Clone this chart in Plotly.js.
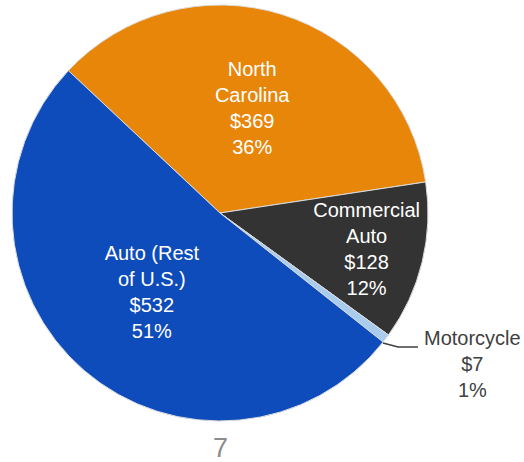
<!DOCTYPE html>
<html>
<head>
<meta charset="utf-8">
<script src="https://cdn.plot.ly/plotly-3.0.1.min.js"></script>
<style>html,body{margin:0;padding:0;background:#fff;}#chart{width:524px;height:462px;}</style>
</head>
<body>
<div id="chart"></div>
<script>
const categories = ["North<br>Carolina", "Commercial<br>Auto", "Motorcycle", "Auto (Rest<br>of U.S.)"];
const values = [369, 128, 7, 532];
const percents = ["36%", "12%", "1%", "51%"];
const colors = ["#E8860A", "#333333", "#A8CBEE", "#0F4CBB"];
const pageNumber = "7";

const texts = categories.map((c, i) => i === 2 ? "" : c + "<br>$" + values[i] + "<br>" + percents[i]);
const FONT = "Liberation Sans, Arial, sans-serif";

const trace = {
  type: "pie",
  labels: categories,
  values: values,
  text: texts,
  textinfo: "text",
  hoverinfo: "none",
  sort: false,
  direction: "clockwise",
  rotation: -46.8,
  textposition: "inside",
  insidetextorientation: "horizontal",
  insidetextfont: {family: FONT, size: 20, color: "#ffffff"},
  marker: {colors: colors, line: {color: "#dddddd", width: 1}},
  domain: {x: [12/524, 428/524], y: [1 - 421/462, 1 - 5/462]},
  showlegend: false
};

const layout = {
  width: 524, height: 462,
  margin: {l: 0, r: 0, t: 0, b: 0},
  paper_bgcolor: "#ffffff",
  showlegend: false,
  uniformtext: {mode: "show", minsize: 20},
  annotations: [
    {text: categories[2] + "<br>$" + values[2] + "<br>" + percents[2], xref: "paper", yref: "paper",
     x: 472/524, y: 1 - 364/462, xanchor: "center", yanchor: "middle", showarrow: false,
     font: {family: FONT, size: 20, color: "#404040"}},
    {text: pageNumber, xref: "paper", yref: "paper", x: 220/524, y: 1 - 448/462,
     xanchor: "center", yanchor: "middle", showarrow: false,
     font: {family: FONT, size: 27, color: "#8c8c8c"}}
  ],
  shapes: [
    {type: "path", xref: "paper", yref: "paper",
     path: "M " + (383/524) + " " + (1 - 343/462) + " L " + (398/524) + " " + (1 - 347/462) + " L " + (418/524) + " " + (1 - 347/462),
     line: {color: "#404040", width: 1.5}}
  ]
};

Plotly.newPlot("chart", [trace], layout, {displayModeBar: false, staticPlot: true});
</script>
</body>
</html>
